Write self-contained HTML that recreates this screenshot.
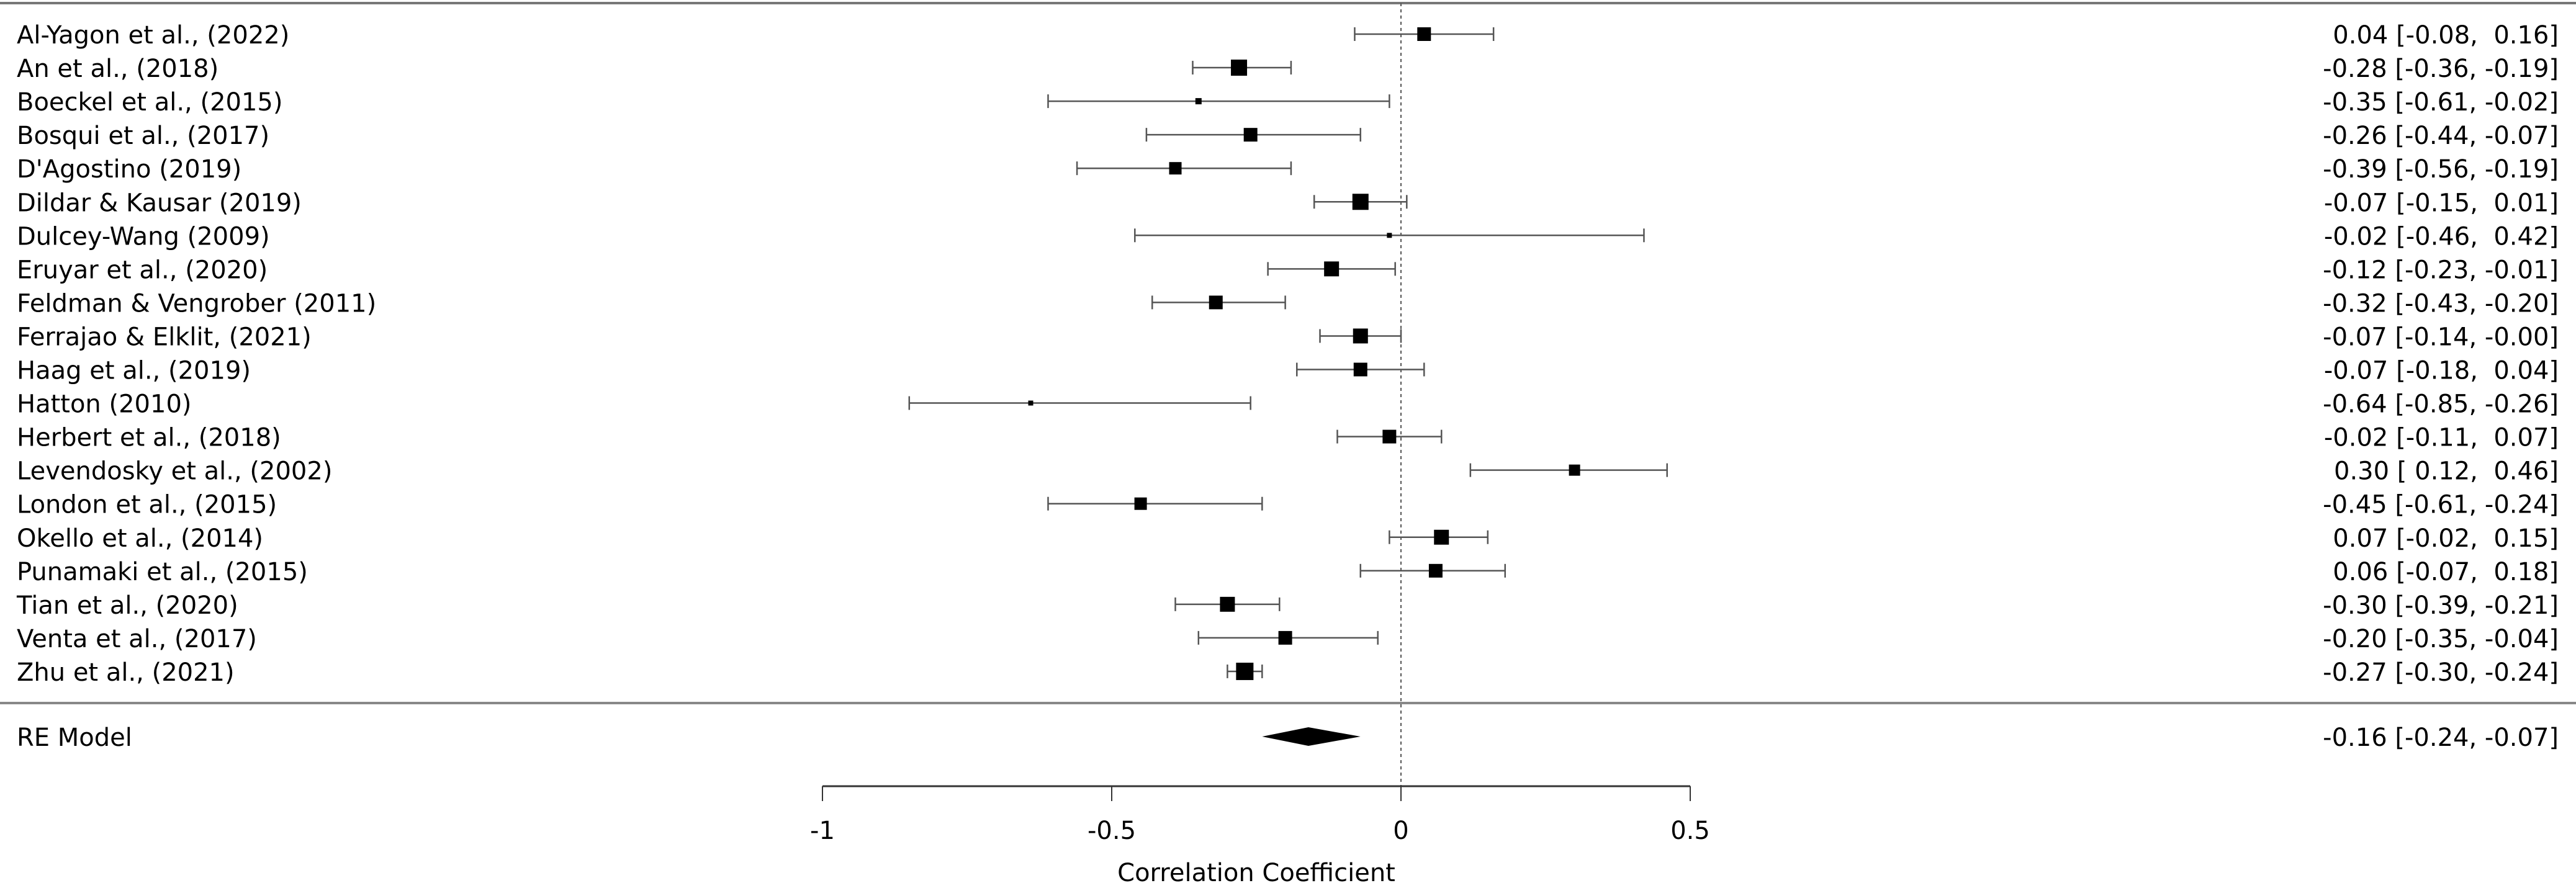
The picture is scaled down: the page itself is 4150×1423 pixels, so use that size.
<!DOCTYPE html>
<html><head><meta charset="utf-8"><style>
html,body{margin:0;padding:0;background:#fff;}
svg{display:block;}
text{font-family:"DejaVu Sans","Liberation Sans",sans-serif;font-size:40px;fill:#000;white-space:pre;}
</style></head><body>
<svg id="chart" width="4150" height="1423" viewBox="0 0 4150 1423" xmlns="http://www.w3.org/2000/svg">
<g id="g"></g>
</svg>
<script>
const studies = ["Al-Yagon et al., (2022)","An et al., (2018)","Boeckel et al., (2015)","Bosqui et al., (2017)","D'Agostino (2019)","Dildar & Kausar (2019)","Dulcey-Wang (2009)","Eruyar et al., (2020)","Feldman & Vengrober (2011)","Ferrajao & Elklit, (2021)","Haag et al., (2019)","Hatton (2010)","Herbert et al., (2018)","Levendosky et al., (2002)","London et al., (2015)","Okello et al., (2014)","Punamaki et al., (2015)","Tian et al., (2020)","Venta et al., (2017)","Zhu et al., (2021)"];
const estimates = [0.04,-0.28,-0.35,-0.26,-0.39,-0.07,-0.02,-0.12,-0.32,-0.07,-0.07,-0.64,-0.02,0.30,-0.45,0.07,0.06,-0.30,-0.20,-0.27];
const lowers = [-0.08,-0.36,-0.61,-0.44,-0.56,-0.15,-0.46,-0.23,-0.43,-0.14,-0.18,-0.85,-0.11,0.12,-0.61,-0.02,-0.07,-0.39,-0.35,-0.30];
const uppers = [0.16,-0.19,-0.02,-0.07,-0.19,0.01,0.42,-0.01,-0.20,-0.00,0.04,-0.26,0.07,0.46,-0.24,0.15,0.18,-0.21,-0.04,-0.24];
const weights = [22,26,10,22,20,26,8,24,22,24,22,8,22,18,20,24,22,24,22,28];
const labels = ["0.04 [-0.08,  0.16]","-0.28 [-0.36, -0.19]","-0.35 [-0.61, -0.02]","-0.26 [-0.44, -0.07]","-0.39 [-0.56, -0.19]","-0.07 [-0.15,  0.01]","-0.02 [-0.46,  0.42]","-0.12 [-0.23, -0.01]","-0.32 [-0.43, -0.20]","-0.07 [-0.14, -0.00]","-0.07 [-0.18,  0.04]","-0.64 [-0.85, -0.26]","-0.02 [-0.11,  0.07]","0.30 [ 0.12,  0.46]","-0.45 [-0.61, -0.24]","0.07 [-0.02,  0.15]","0.06 [-0.07,  0.18]","-0.30 [-0.39, -0.21]","-0.20 [-0.35, -0.04]","-0.27 [-0.30, -0.24]"];
const reEst = -0.16, reLo = -0.24, reHi = -0.07;
const reLabel = "-0.16 [-0.24, -0.07]";
const ticks = [-1,-0.5,0,0.5];
const tickLabels = ["-1","-0.5","0","0.5"];

const NS="http://www.w3.org/2000/svg";
const g=document.getElementById('g');
const X=v=>2257+932*v;
const Y=i=>55+54.05*i;
function mk(t,a,parent){const e=document.createElementNS(NS,t);for(const k in a)e.setAttribute(k,a[k]);(parent||g).appendChild(e);return e;}

let e;
e=mk('line',{x1:0,x2:4150,y1:5,y2:5,stroke:'#777','stroke-width':4});


e=mk('line',{x1:0,x2:4150,y1:1133,y2:1133,stroke:'#888','stroke-width':4});


e=mk('line',{x1:X(0),x2:X(0),y1:5,y2:1267,stroke:'#555','stroke-width':2,'stroke-dasharray':'5,5'});



studies.forEach((s,i)=>{
  const y=Y(i);
  let t=mk('text',{x:27,y:y+15});t.textContent=s;
  
  
  let l=mk('line',{x1:X(lowers[i]),x2:X(uppers[i]),y1:y,y2:y,stroke:'#555','stroke-width':2.5});
  
  
  [lowers[i],uppers[i]].forEach(v=>{
    let c=mk('line',{x1:X(v),x2:X(v),y1:y-11,y2:y+11,stroke:'#555','stroke-width':2.5});
    
    
  });
  const w=weights[i];
  let r=mk('rect',{x:X(estimates[i])-w/2,y:y-w/2,width:w,height:w,fill:'#000'});
  
  
  let v=mk('text',{x:4122,y:y+15,'text-anchor':'end'});v.textContent=labels[i];
  
  
});

const ry=1187;
let rt=mk('text',{x:27,y:ry+15});rt.textContent="RE Model";


let d=mk('polygon',{points:`${X(reLo)},${ry} ${X(reEst)},${ry-15} ${X(reHi)},${ry} ${X(reEst)},${ry+15}`,fill:'#000'});


let rv=mk('text',{x:4122,y:ry+15,'text-anchor':'end'});rv.textContent=reLabel;



let ax=mk('line',{x1:X(ticks[0]),x2:X(ticks[ticks.length-1]),y1:1267,y2:1267,stroke:'#333','stroke-width':3});


ticks.forEach((v,i)=>{
  let tk=mk('line',{x1:X(v),x2:X(v),y1:1267,y2:1291,stroke:'#333','stroke-width':2});
  
  
  let tl=mk('text',{x:X(v),y:1352,'text-anchor':'middle'});tl.textContent=tickLabels[i];
  
  
});
let at=mk('text',{x:(X(-1)+X(0.5))/2,y:1420,'text-anchor':'middle'});at.textContent="Correlation Coefficient";


</script>
</body></html>
